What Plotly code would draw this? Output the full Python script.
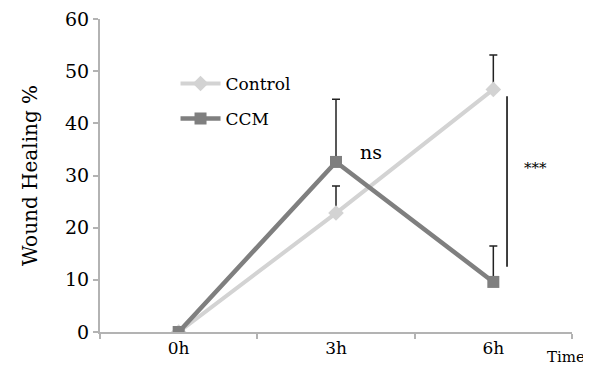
import plotly.graph_objects as go

times = ["0h", "3h", "6h"]
control = [0, 22.8, 46.5]
control_err = [0, 5.2, 6.6]
ccm = [0, 32.6, 9.6]
ccm_err = [0, 12.0, 6.9]
yticks = [0, 10, 20, 30, 40, 50, 60]

FONT = "DejaVu Serif"
AXIS_COLOR = "#b3b3b3"

fig = go.Figure()
fig.add_trace(go.Scatter(
    x=times, y=control, name="Control", mode="lines+markers",
    line=dict(color="#d3d3d3", width=4),
    marker=dict(symbol="diamond", size=12, color="#d3d3d3"),
    error_y=dict(type="data", array=control_err, arrayminus=[0, 0, 0], symmetric=False,
                 color="#222222", thickness=1.5, width=4),
    legendgroup="a",
))
fig.add_trace(go.Scatter(
    x=times, y=ccm, name="CCM", mode="lines+markers",
    line=dict(color="#7f7f7f", width=4.5),
    marker=dict(symbol="square", size=12, color="#7f7f7f"),
    error_y=dict(type="data", array=ccm_err, arrayminus=[0, 0, 0], symmetric=False,
                 color="#222222", thickness=1.5, width=4),
    legendgroup="b",
))

# significance bar and labels
fig.add_shape(type="line", xref="x", yref="y", x0=2.087, x1=2.087, y0=12.5, y1=45.2,
              line=dict(color="black", width=1.5))
fig.add_annotation(x=2.265, y=31.5, xref="x", yref="y", text="***", showarrow=False,
                   font=dict(family=FONT, size=15, color="black"))
fig.add_annotation(x=1.22, y=34.5, xref="x", yref="y", text="ns", showarrow=False,
                   font=dict(family=FONT, size=19, color="black"))
fig.add_annotation(x=(579 - 92) / 472, y=-25 / 313, xref="paper", yref="paper",
                   xanchor="right", yanchor="middle", text="Time", showarrow=False,
                   font=dict(family=FONT, size=15, color="black"))

# the page body has an 8px default margin: figure is sized/placed to compensate
fig.update_layout(
    width=583, height=357,
    margin=dict(l=92, r=19, t=11, b=33, autoexpand=False),
    plot_bgcolor="white", paper_bgcolor="white",
    font=dict(family=FONT, color="black"),
    showlegend=True,
    legend=dict(x=0.16, y=0.85, xanchor="left", yanchor="top",
                bgcolor="rgba(0,0,0,0)", font=dict(family=FONT, size=17),
                traceorder="grouped", tracegroupgap=10, itemwidth=40),
    xaxis=dict(
        type="category", range=[-0.5, 2.5], showgrid=False, automargin=False,
        showline=True, linecolor=AXIS_COLOR, linewidth=2,
        ticks="outside", tickson="boundaries", tickcolor=AXIS_COLOR, ticklen=5, tickwidth=2,
        tickfont=dict(family=FONT, size=17),
    ),
    yaxis=dict(
        range=[0, 60], tickvals=yticks, showgrid=False, zeroline=False, automargin=False,
        showline=True, linecolor=AXIS_COLOR, linewidth=2,
        ticks="outside", tickcolor=AXIS_COLOR, ticklen=5, tickwidth=2,
        tickfont=dict(family=FONT, size=19), ticklabeloverflow="allow",
        title=dict(text="Wound Healing %", font=dict(family=FONT, size=20), standoff=22),
    ),
)

fig.write_html("out.html")
